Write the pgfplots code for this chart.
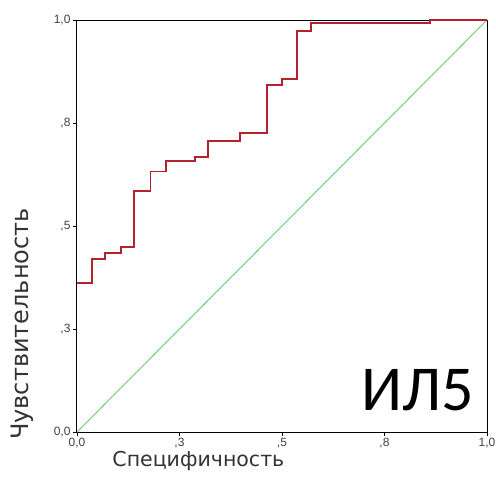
\documentclass[border=0pt]{standalone}
\usepackage{fontspec}
\setmainfont{Liberation Sans}
\newfontfamily\labfont{DejaVu Sans}
\newfontfamily\bigfont{Carlito}
\usepackage{pgfplots}
\pgfplotsset{compat=1.18}

\definecolor{rocred}{RGB}{180,35,45}
\definecolor{refgreen}{RGB}{110,200,110}

\begin{document}
\begin{tikzpicture}
\begin{axis}[
    name=ax,
    scale only axis,
    width=410pt, height=412pt,
    xmin=0, xmax=1, ymin=0, ymax=1,
    xtick={0,0.25,0.5,0.75,1},
    ytick={0,0.25,0.5,0.75,1},
    xticklabels={{0,0},{,3},{,5},{,8},{1,0}},
    yticklabels={{0,0},{,3},{,5},{,8},{1,0}},
    tick pos=left,
    tick align=outside,
    major tick length=4pt,
    tick style={black, line width=0.8pt},
    axis line style={line width=1pt},
    ticklabel style={font=\fontsize{12}{12}\selectfont, text=black!75},
    xticklabel style={yshift=1pt},
    yticklabel style={xshift=1pt},
    xlabel={Специфичность},
    ylabel={Чувствительность},
    label style={text=black!80},
    xlabel style={font=\labfont\fontsize{20.5}{20.5}\selectfont,
        at={(axis description cs:0.296,0)}, anchor=north, yshift=-16pt},
    ylabel style={font=\labfont\fontsize{24}{24}\selectfont,
        at={(axis description cs:0,0.262)}, anchor=south, yshift=40pt},
    clip=false,
]
\addplot[refgreen, line width=0.9pt] coordinates {(0,0) (1,1)};
\addplot[rocred, line width=1.4pt, const plot mark left] coordinates {
    (0,0.362) (0.037,0.420) (0.068,0.434) (0.107,0.449)
    (0.139,0.585) (0.180,0.633) (0.217,0.658) (0.288,0.667)
    (0.320,0.706) (0.398,0.726) (0.463,0.842) (0.500,0.857)
    (0.537,0.973) (0.571,0.993) (0.861,1.0) (1.0,1.0)
};
\node[font=\bigfont\fontsize{64}{64}\selectfont, anchor=base] at (axis cs:0.83,0.053) {ИЛ5};
\end{axis}
\pgfresetboundingbox
\path ([shift={(-77pt,-51pt)}]ax.south west) rectangle ([shift={(9pt,20pt)}]ax.north east);
\end{tikzpicture}
\end{document}
